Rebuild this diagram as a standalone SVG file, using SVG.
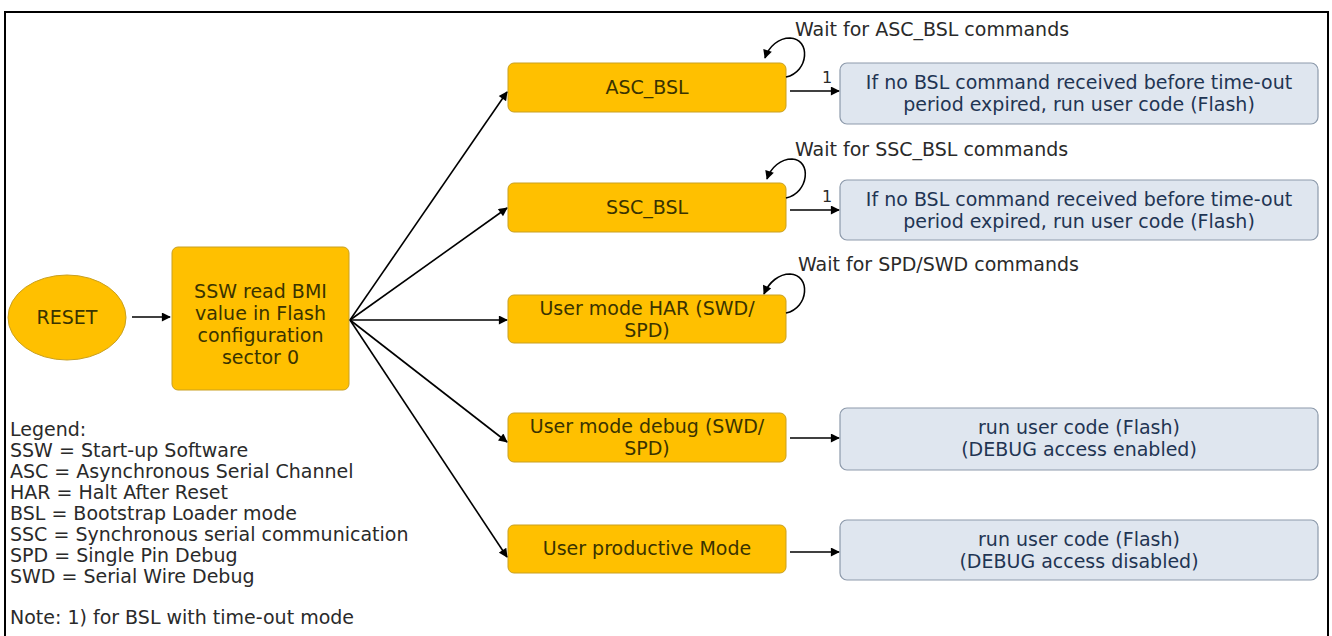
<svg xmlns="http://www.w3.org/2000/svg" width="1332" height="636" viewBox="0 0 1332 636">
<style>
text{font-family:"DejaVu Sans",Verdana,sans-serif;font-size:19px}
.o{fill:#FFC000;stroke:#C9A020;stroke-width:1}
.b{fill:#DFE6EF;stroke:#8D9AAB;stroke-width:1.2}
.ot{fill:#3A3300;text-anchor:middle}
.bt{fill:#1F3553;text-anchor:middle}
.lt{fill:#2A2A2A}
.c{fill:none;stroke:#000;stroke-width:1.6;marker-end:url(#ah)}
</style>
<defs>
<marker id="ah" viewBox="0 0 10 10" refX="9" refY="5" markerWidth="10" markerHeight="9" markerUnits="userSpaceOnUse" orient="auto">
<path d="M0,0 L10,5 L0,10 z" fill="#000"/>
</marker>
</defs>
<rect width="1332" height="636" fill="#fff"/>
<rect x="5" y="12" width="1323" height="640" fill="none" stroke="#000" stroke-width="2"/>

<g id="reset"><ellipse cx="67" cy="317.5" rx="59" ry="42.5" class="o"/><text x="67" y="324" class="ot">RESET</text></g>
<g id="ssw"><rect x="172" y="247" width="177" height="143" rx="6" class="o"/>
<text x="260.5" y="298" class="ot">SSW read BMI</text>
<text x="260.5" y="320" class="ot">value in Flash</text>
<text x="260.5" y="342" class="ot">configuration</text>
<text x="260.5" y="364" class="ot">sector 0</text></g>

<g id="asc"><rect x="508" y="63" width="278" height="49" rx="6" class="o"/><text x="647" y="94" class="ot">ASC_BSL</text></g>
<g id="ssc"><rect x="508" y="183" width="278" height="49" rx="6" class="o"/><text x="647" y="214" class="ot">SSC_BSL</text></g>
<g id="har"><rect x="508" y="295" width="278" height="48" rx="6" class="o"/><text x="647" y="315" class="ot">User mode HAR (SWD/</text><text x="647" y="337" class="ot">SPD)</text></g>
<g id="dbg"><rect x="508" y="413" width="278" height="49" rx="6" class="o"/><text x="647" y="433" class="ot">User mode debug (SWD/</text><text x="647" y="455" class="ot">SPD)</text></g>
<g id="prod"><rect x="508" y="525" width="278" height="48" rx="6" class="o"/><text x="647" y="555" class="ot">User productive Mode</text></g>

<g id="b1"><rect x="840" y="63" width="478" height="61" rx="7" class="b"/><text x="1079" y="89" class="bt">If no BSL command received before time-out</text><text x="1079" y="111" class="bt">period expired, run user code (Flash)</text></g>
<g id="b2"><rect x="840" y="180" width="478" height="60" rx="7" class="b"/><text x="1079" y="206" class="bt">If no BSL command received before time-out</text><text x="1079" y="228" class="bt">period expired, run user code (Flash)</text></g>
<g id="b3"><rect x="840" y="408" width="478" height="62" rx="7" class="b"/><text x="1079" y="434" class="bt">run user code (Flash)</text><text x="1079" y="456" class="bt">(DEBUG access enabled)</text></g>
<g id="b4"><rect x="840" y="520" width="478" height="60" rx="7" class="b"/><text x="1079" y="546" class="bt">run user code (Flash)</text><text x="1079" y="568" class="bt">(DEBUG access disabled)</text></g>

<g id="connectors">
<line x1="132" y1="317" x2="170" y2="317" class="c"/>
<line x1="350" y1="320" x2="507" y2="92" class="c"/>
<line x1="350" y1="320" x2="507" y2="208" class="c"/>
<line x1="350" y1="320" x2="507" y2="320" class="c"/>
<line x1="350" y1="320" x2="507" y2="442" class="c"/>
<line x1="350" y1="320" x2="507" y2="557" class="c"/>
<line x1="790" y1="91" x2="839" y2="91" class="c"/>
<line x1="790" y1="210" x2="839" y2="210" class="c"/>
<line x1="790" y1="438" x2="839" y2="438" class="c"/>
<line x1="790" y1="552" x2="839" y2="552" class="c"/>
<path d="M786,77 C809,72 811,39 790,38 C779,38 769,46 765,58" class="c"/>
<path d="M786,198 C809,193 812,160 792,159 C781,159 771,167 767,179" class="c"/>
<path d="M786,313 C809,308 811,275 790,274 C779,274 769,282 764,294" class="c"/>
</g>

<g id="labels">
<text x="795" y="36" class="lt">Wait for ASC_BSL commands</text>
<text x="795" y="156" class="lt">Wait for SSC_BSL commands</text>
<text x="798" y="271" class="lt">Wait for SPD/SWD commands</text>
<text x="822" y="83" class="lt" style="font-size:16px">1</text>
<text x="822" y="202" class="lt" style="font-size:16px">1</text>
</g>

<g id="legend" class="lt">
<text x="10" y="436">Legend:</text>
<text x="10" y="457">SSW = Start-up Software</text>
<text x="10" y="478">ASC = Asynchronous Serial Channel</text>
<text x="10" y="499">HAR = Halt After Reset</text>
<text x="10" y="520">BSL = Bootstrap Loader mode</text>
<text x="10" y="541">SSC = Synchronous serial communication</text>
<text x="10" y="562">SPD = Single Pin Debug</text>
<text x="10" y="583">SWD = Serial Wire Debug</text>
<text x="10" y="624">Note: 1) for BSL with time-out mode</text>
</g>
</svg>
